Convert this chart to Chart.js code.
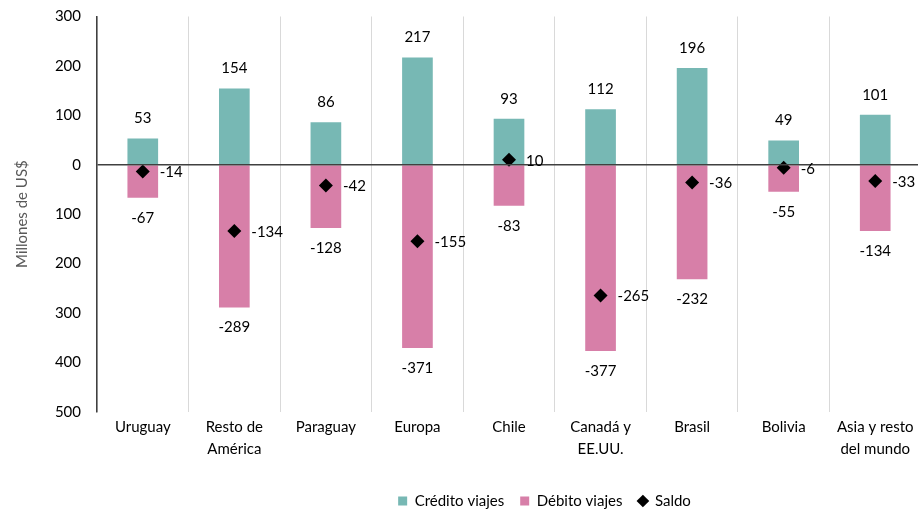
<!DOCTYPE html>
<html><head><meta charset="utf-8">
<script src="https://cdn.jsdelivr.net/npm/chart.js@4.4.1/dist/chart.umd.min.js"></script>
<style>html,body{margin:0;padding:0;background:#fff;overflow:hidden}#wrap{width:928px;height:512px}</style>
</head><body><div id="wrap"><canvas id="c" width="928" height="512"></canvas></div>
<script>
const categories = ["Uruguay", ["Resto de","América"], "Paraguay", "Europa", "Chile", ["Canadá y","EE.UU."], "Brasil", "Bolivia", ["Asia y resto","del mundo"]];
const creditoViajes = [53, 154, 86, 217, 93, 112, 196, 49, 101];
const debitoViajes = [-67, -289, -128, -371, -83, -377, -232, -55, -134];
const saldo = [-14, -134, -42, -155, 10, -265, -36, -6, -33];
const seriesNames = ["Crédito viajes", "Débito viajes", "Saldo"];
const yMin = -500, yMax = 300, yStep = 100;

const FONT = "Lato";
const labelPlugin = {
  id: 'valueLabels',
  afterLayout(chart) {
    const l = chart.legend;
    if (l) {
      const dx = 544.5 - (l.left + l.right) / 2;
      l.left += dx; l.right += dx; l.top += 6.5; l.bottom += 6.5;
    }
  },
  afterDraw(chart) {
    const ctx = chart.ctx;
    ctx.save();
    ctx.font = "15px " + FONT;
    ctx.fillStyle = "#000";
    ctx.textBaseline = "middle";
    chart.data.datasets.forEach((ds, i) => {
      const meta = chart.getDatasetMeta(i);
      meta.data.forEach((el, j) => {
        const v = ds.data[j];
        if (i === 0) { ctx.textAlign = "center"; ctx.fillText(String(v), el.x, el.y - 20); }
        else if (i === 1) { ctx.textAlign = "center"; ctx.fillText(String(v), el.x, el.y + 20); }
        else { ctx.textAlign = "left"; ctx.fillText(String(v), el.x + 17, el.y + 1); }
      });
    });
    ctx.restore();
  }
};

new Chart(document.getElementById('c'), {
  type: 'bar',
  data: {
    labels: categories,
    datasets: [
      { label: seriesNames[0], data: creditoViajes, backgroundColor: '#77B8B4', pointStyle: 'rect', barPercentage: 0.335, categoryPercentage: 1, order: 1 },
      { label: seriesNames[1], data: debitoViajes, backgroundColor: '#D77FA8', pointStyle: 'rect', barPercentage: 0.335, categoryPercentage: 1, order: 1 },
      { type: 'line', label: seriesNames[2], data: saldo, showLine: false, pointStyle: 'rectRot', pointRadius: 7, pointHoverRadius: 7, backgroundColor: '#000', borderColor: '#000', borderWidth: 0, order: 0 }
    ]
  },
  options: {
    responsive: false,
    animation: false,
    devicePixelRatio: 1,
    layout: { padding: { top: 16.5, right: 3, left: 0, bottom: 0 } },
    plugins: {
      tooltip: { enabled: false },
      legend: {
        position: 'bottom',
        labels: { usePointStyle: true, boxWidth: 9, boxHeight: 9, padding: 16, color: '#000', font: { family: FONT, size: 15 },
                  sort: (a, b) => a.datasetIndex - b.datasetIndex }
      }
    },
    scales: {
      x: {
        stacked: true,
        grid: { color: '#d9d9d9', lineWidth: 1, offset: true, drawTicks: false },
        border: { display: false },
        ticks: { color: '#000', font: { family: FONT, size: 15, lineHeight: 1.45 }, padding: 5, maxRotation: 0, autoSkip: false },
        afterFit(s) { s.height = 59.3; s.paddingLeft = 0; s.paddingRight = 0; }
      },
      y: {
        stacked: true,
        min: yMin, max: yMax,
        grid: { drawTicks: false, z: 1, color: c => (c.tick && c.tick.value === 0) ? '#404040' : 'rgba(0,0,0,0)', lineWidth: 1.5 },
        border: { display: true, z: 1, color: '#404040', width: 1.5 },
        ticks: { stepSize: yStep, color: '#000', font: { family: FONT, size: 15 }, padding: 16, callback: v => String(Math.abs(v)) },
        title: { display: true, text: 'Millones de US$', color: '#595959', font: { family: FONT, size: 15 }, padding: { top: 13, bottom: 0 } },
        afterFit(s) { s.width = 97; s.paddingTop = 0; s.paddingBottom = 0; }
      }
    }
  },
  plugins: [labelPlugin]
});
</script>
</body></html>
